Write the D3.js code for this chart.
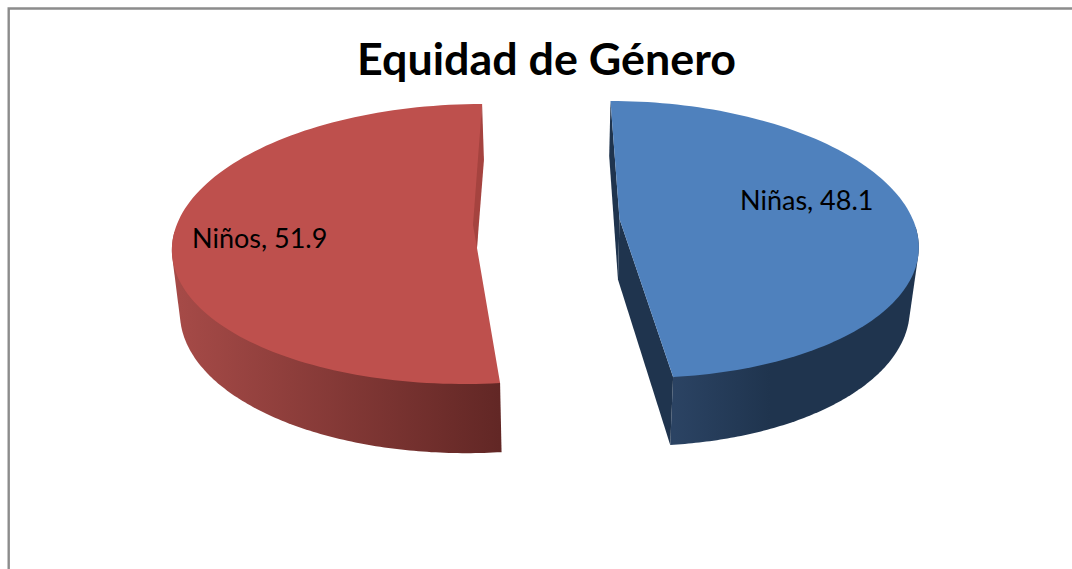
<!DOCTYPE html>
<html><head><meta charset="utf-8">
<style>html,body{margin:0;padding:0;background:#fff}svg{display:block}text{font-family:Lato,"Open Sans",sans-serif;fill:#000}</style>
<script src="https://cdn.jsdelivr.net/npm/d3@7"></script></head><body>
<script>
const titleText = "Equidad de Género";
const categories = ["Niñas", "Niños"];
const values = [48.1, 51.9];

// Perspective of each exploded slice (layout only)
const views = [
 {c:624.5,cy:241,rx:294,ryT:140,ryB:137,s:0.1,apex:[619.5,219],x0:558,k:0.975,y0:101,y1:156,m:1.047,kink:null,
  top:"#4f81bd",cut:"#1f344e",grad:[[675,"#2b4363"],[770,"#1f344e"],[909,"#1f344e"]],label:[740,210]},
 {c:473,cy:246,rx:301,ryT:142,ryB:138,s:-0.064,apex:[477,248],x0:575,k:0.98,y0:104,y1:160,m:1.047,kink:[473,225],
  top:"#be504d",cut:"#a5433f",grad:[[180,"#a54a47"],[500,"#622725"]],label:[192,248]}
];
const W=1072,H=569;
const svg=d3.select("body").append("svg").attr("width",W).attr("height",H);
const defs=svg.append("defs");
svg.append("path").attr("d",`M8.7,${H}V8.5H${W}`).attr("fill","none").attr("stroke","#8c8c8c").attr("stroke-width",2.4);
svg.append("text").attr("x",546.5).attr("y",75).attr("text-anchor","middle").attr("font-size",44.8).attr("font-weight",700).text(titleText);

const arcs=d3.pie().sort(null)(values);
const line=d3.line();
arcs.forEach((a,i)=>{
  const v=views[i];
  const upper=t=>{const sn=Math.sin(t),cs=-Math.cos(t),dy=cs*(cs<0?v.ryT:v.ryB);return [v.c+v.rx*sn+v.s*dy,v.cy+dy];};
  const lower=p=>[v.x0+v.k*(p[0]-v.x0),v.y1+v.m*(p[1]-v.y0)];
  const samples=(t0,t1)=>d3.range(0,121).map(j=>t0+(t1-t0)*j/120);
  const rimAll=samples(a.startAngle,a.endAngle).map(upper);
  const f0=i===0?Math.max(a.startAngle,Math.PI/2-0.1):a.startAngle;
  const f1=i===0?a.endAngle:Math.min(a.endAngle,1.5*Math.PI+0.1);
  const front=samples(f0,f1).map(upper);
  const id="wall"+i;
  const g=defs.append("linearGradient").attr("id",id).attr("gradientUnits","userSpaceOnUse")
    .attr("x1",v.grad[0][0]).attr("x2",v.grad[v.grad.length-1][0]).attr("y1",0).attr("y2",0);
  const ext=v.grad[v.grad.length-1][0]-v.grad[0][0];
  v.grad.forEach(s=>g.append("stop").attr("offset",(s[0]-v.grad[0][0])/ext).attr("stop-color",s[1]));
  const hull=d3.polygonHull(front.concat(front.map(lower)));
  svg.append("path").attr("d",line(hull)+"Z").attr("fill",`url(#${id})`);
  const s=rimAll[0],e=rimAll[rimAll.length-1],ap=v.apex;
  if(i===0){
    const la=lower(ap);
    svg.append("path").attr("d",line([s,lower(s),la,ap])+"Z").attr("fill",v.cut);
    svg.append("path").attr("d",line([ap,la,lower(e),e])+"Z").attr("fill",v.cut);
  }
  svg.append("path").attr("d",line([ap,...rimAll])+"Z").attr("fill",v.top);
  if(v.kink) svg.append("path").attr("d",line([e,lower(e),ap,v.kink])+"Z").attr("fill",v.cut);
  svg.append("text").attr("x",v.label[0]).attr("y",v.label[1]).attr("font-size",27).text(`${categories[i]}, ${values[i]}`);
});
</script></body></html>
